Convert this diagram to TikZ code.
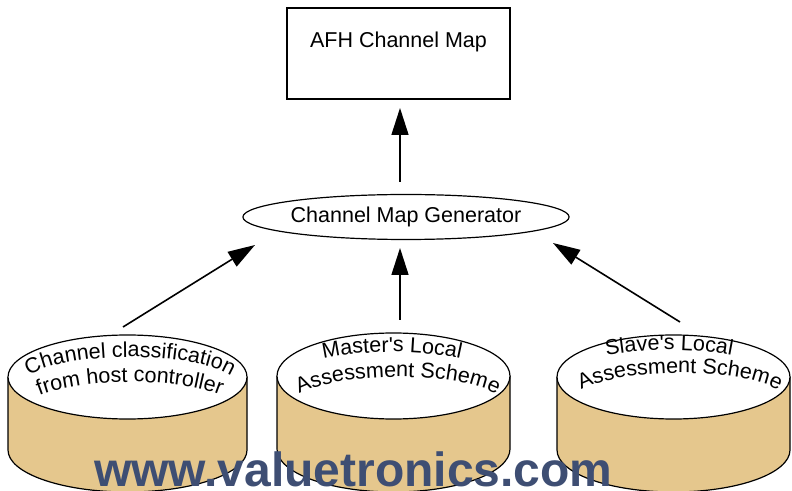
\documentclass[tikz,border=0pt]{standalone}
\usepackage{fontspec}
\setmainfont{Liberation Sans}
\usetikzlibrary{arrows.meta,shapes.geometric,decorations.text}
\definecolor{tanc}{RGB}{229,199,141}
\definecolor{wmc}{RGB}{62,78,115}
\newcommand\cyltext{\fontsize{21.5}{24}\selectfont}
% cx, cy, rx, ry, h
\newcommand\cylbody[5]{%
  \fill[tanc] ({#1-#3},#2) -- ({#1-#3},{#2-#5}) arc[start angle=180,end angle=360,x radius=#3,y radius=#4] -- ({#1+#3},#2) -- cycle;
  \draw[shapeline] ({#1-#3},#2) -- ({#1-#3},{#2-#5}) arc[start angle=180,end angle=360,x radius=#3,y radius=#4] -- ({#1+#3},#2);
}
% cx, cy, text
\newcommand\arctext[3]{%
  \path[decorate,decoration={text along path,text align=center,text={|\cyltext|#3}}]
    ({#1-110},#2) arc[start angle=180,end angle=0,x radius=110,y radius=31];
}
\begin{document}
\begin{tikzpicture}[x=1pt,y=1pt,
  shapeline/.style={line width=1.2pt,black},
  arr/.style={line width=1.6pt,-{Triangle[length=27pt,width=17pt]}},
  lbl/.style={font=\fontsize{21.5}{24}\selectfont}]
\useasboundingbox (0,0) rectangle (792,490);

% top box
\node[draw,shapeline,minimum width=223pt,minimum height=91pt,inner sep=0] (afh) at (398.5,436.5) {};
\node[lbl] (afhtext) at (398.5,448) {AFH Channel Map};

% generator
\node[ellipse,draw,shapeline,minimum width=322pt,minimum height=45pt,inner sep=0,lbl] (gen) at (406,273) {Channel Map Generator};

% cylinders
\cylbody{127.5}{113}{119.5}{42}{73}
\node[ellipse,draw,shapeline,fill=white,minimum width=239pt,minimum height=84pt,inner sep=0] (cylA) at (127.5,113) {};
\cylbody{393.5}{114}{116.5}{43}{73}
\node[ellipse,draw,shapeline,fill=white,minimum width=233pt,minimum height=86pt,inner sep=0] (cylB) at (393.5,114) {};
\cylbody{673.5}{113}{116.5}{42}{73}
\node[ellipse,draw,shapeline,fill=white,minimum width=233pt,minimum height=84pt,inner sep=0] (cylC) at (673.5,113) {};

\arctext{130}{102}{Channel classification}
\arctext{130}{77}{from host controller}
\arctext{392}{107}{Master{\textquotesingle}s Local}
\arctext{398}{82}{Assessment Scheme}
\arctext{669}{109}{Slave{\textquotesingle}s Local}
\arctext{680}{86}{Assessment Scheme}

% connector endpoints
\coordinate (genTop) at (400,308);
\coordinate (afhBot) at (400,382);
\coordinate (aS) at (123,163);
\coordinate (aE) at (255,245);
\coordinate (bS) at (400,170);
\coordinate (bE) at (400,242);
\coordinate (cS) at (680,168);
\coordinate (cE) at (553,247);

\draw[arr] (genTop) -- (afhBot);
\draw[arr] (aS) -- (aE);
\draw[arr] (bS) -- (bE);
\draw[arr] (cS) -- (cE);

% watermark
\node[font=\fontsize{48}{52}\selectfont\bfseries,text=wmc,anchor=base west,inner sep=0] (wmk) at (94,4) {www.valuetronics.com};
\end{tikzpicture}
\end{document}
